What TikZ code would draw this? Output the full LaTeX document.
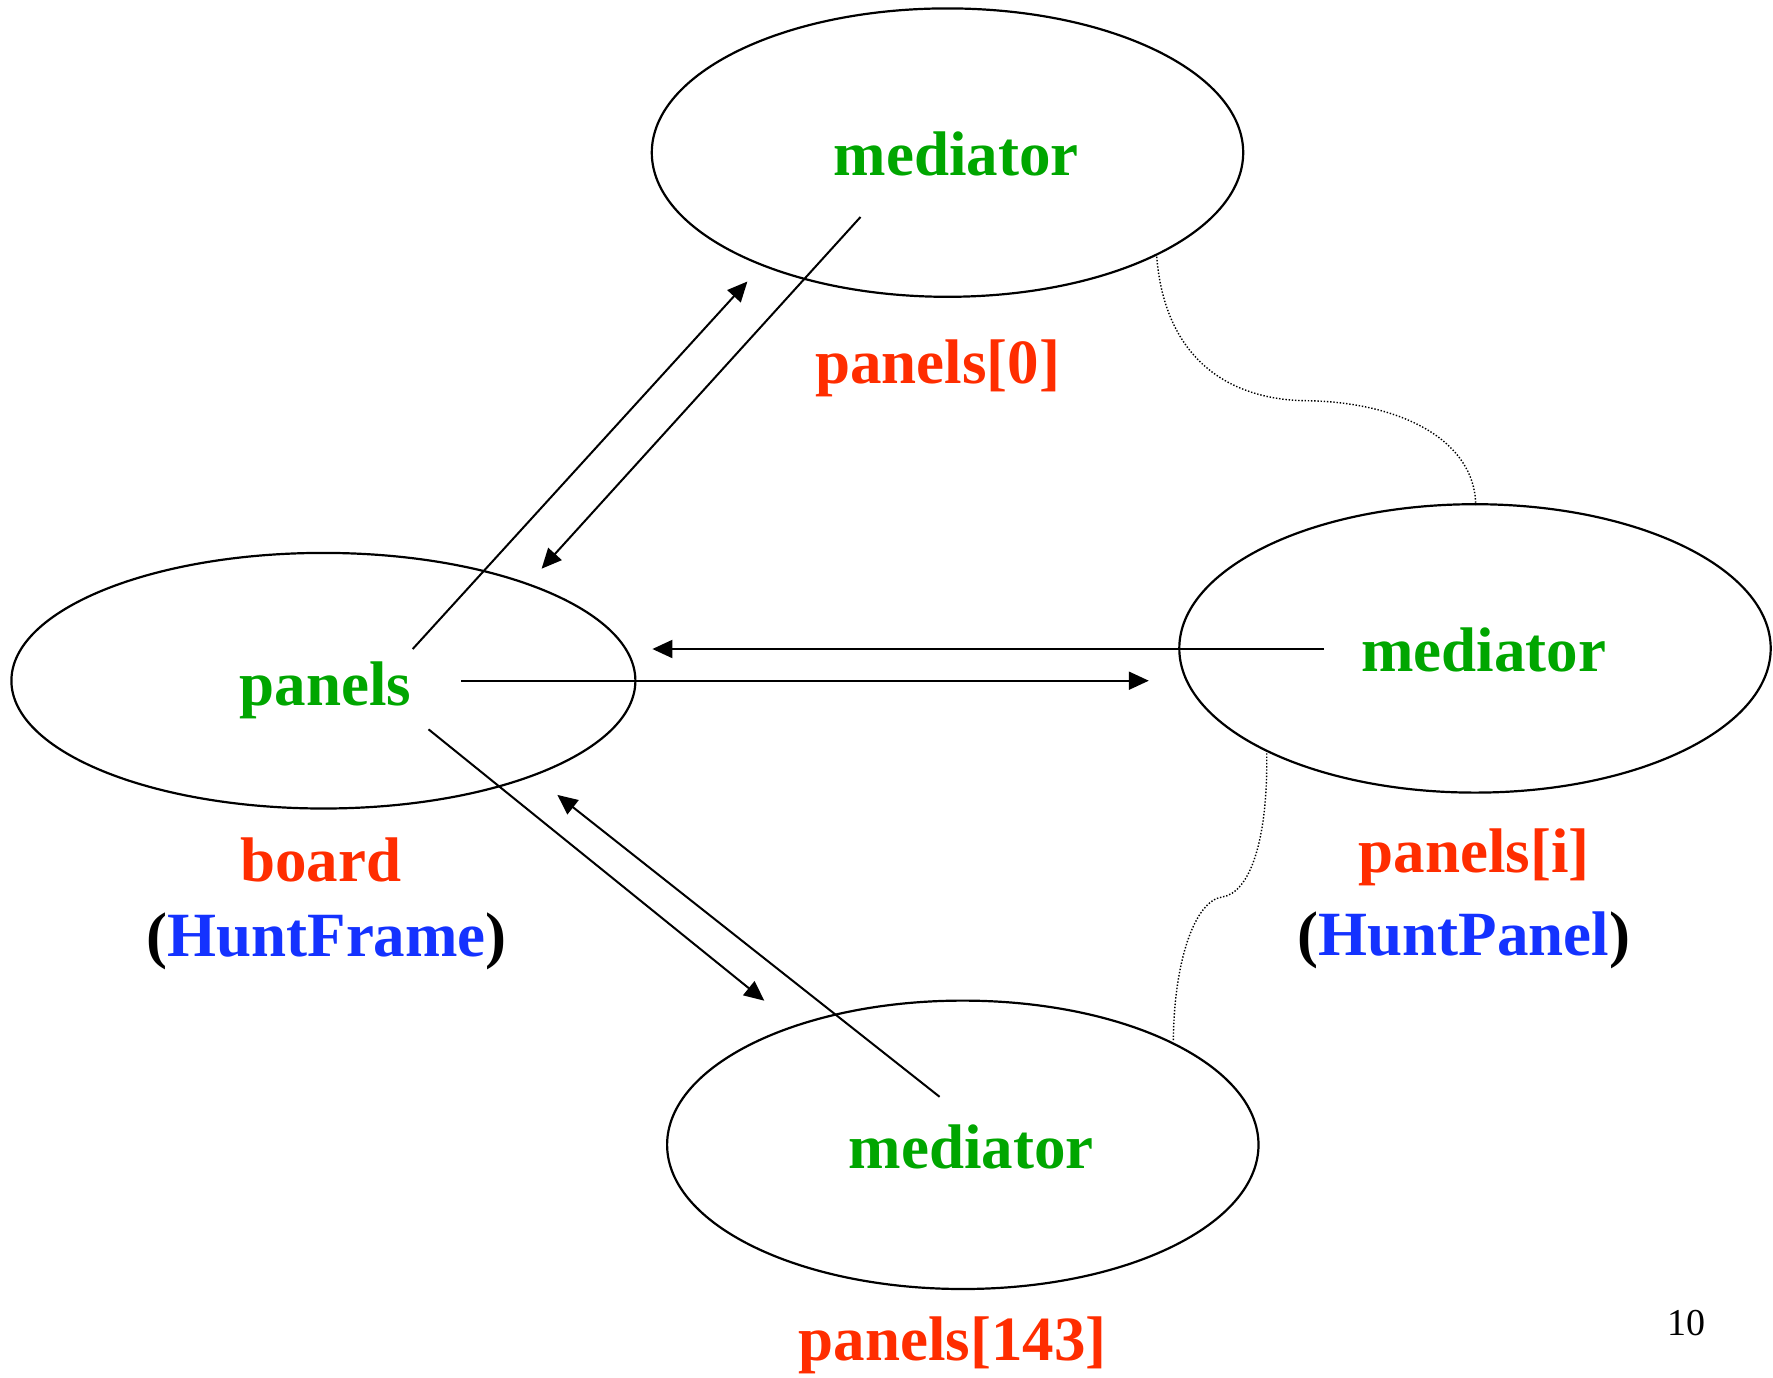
\documentclass[tikz,border=0pt]{standalone}
\usepackage{fontspec}
\setmainfont{Liberation Serif}
\usetikzlibrary{shapes.geometric,arrows.meta}
\definecolor{medgreen}{RGB}{0,166,0}
\definecolor{lblred}{RGB}{255,45,0}
\definecolor{lblblue}{RGB}{20,50,255}
\tikzset{
  obj/.style={ellipse,draw,line width=1.1pt,inner sep=0pt},
  lbl/.style={anchor=base,inner sep=0pt,font=\fontsize{31.5}{36}\selectfont\bfseries},
  conn/.style={line width=1pt,-{Triangle[length=10pt,width=9pt]}},
  link/.style={line width=0.7pt,dash pattern=on 0.7pt off 0.9pt}
}
\begin{document}
\begin{tikzpicture}[x=0.5pt,y=-0.5pt]
\useasboundingbox (0,0) rectangle (1773,1377);
% ellipses
\node[obj,minimum width=295.7pt,minimum height=144.2pt] (top) at (947.5,152.6) {};
\node[obj,minimum width=312pt,minimum height=127.8pt] (left) at (323.4,680.7) {};
\node[obj,minimum width=295.7pt,minimum height=144.2pt] (right) at (1475,648.4) {};
\node[obj,minimum width=295.7pt,minimum height=144.2pt] (bottom) at (962.8,1144.8) {};
% texts
\node[lbl,text=medgreen] (tmed) at (956.3,175) {mediator};
\node[lbl,text=medgreen] (lpan) at (325.4,705) {panels};
\node[lbl,text=medgreen] (rmed) at (1483.5,671.5) {mediator};
\node[lbl,text=medgreen] (bmed) at (971.3,1168) {mediator};
\node[lbl,text=lblred] (p0) at (937.5,383) {panels[0]};
\node[lbl,text=lblred] (board) at (320.8,881.7) {board};
\node[lbl] (hf) at (326.7,956.7) {(\textcolor{lblblue}{HuntFrame})};
\node[lbl,text=lblred] (pi) at (1474,872) {panels[i]};
\node[lbl] (hp) at (1464,955) {(\textcolor{lblblue}{HuntPanel})};
\node[lbl,text=lblred] (p143) at (952.5,1360) {panels[143]};
\node[anchor=base,inner sep=0pt,font=\fontsize{19}{22}\selectfont] (pg) at (1686.7,1335) {10};
% connector end points
\coordinate (a1) at (412.7,649);
\coordinate (a2) at (747.4,281.5);
\coordinate (b1) at (860.5,217);
\coordinate (b2) at (541.6,568.7);
\coordinate (c1) at (1324,649);
\coordinate (c2) at (652.4,649);
\coordinate (d1) at (461.3,680.7);
\coordinate (d2) at (1148.8,680.7);
\coordinate (e1) at (428.5,729.3);
\coordinate (e2) at (764.3,1000.7);
\coordinate (f1) at (939.6,1096.8);
\coordinate (f2) at (557.4,794.9);
\draw[conn] (a1) -- (a2);
\draw[conn] (b1) -- (b2);
\draw[conn] (c1) -- (c2);
\draw[conn] (d1) -- (d2);
\draw[conn] (e1) -- (e2);
\draw[conn] (f1) -- (f2);
% dotted links
\coordinate (g1) at (1156.7,256.7);
\coordinate (g2) at (1306.7,400.7);
\coordinate (g3) at (1475.7,505);
\draw[link] (g1) .. controls (1165,360) and (1230,400) .. (g2)
  .. controls (1400,402) and (1475,440) .. (g3);
\coordinate (h1) at (1266.7,753.3);
\coordinate (h2) at (1222,897);
\coordinate (h3) at (1173.3,1041.7);
\draw[link] (h1) .. controls (1268,840) and (1250,893) .. (h2)
  .. controls (1195,901) and (1174,960) .. (h3);
\end{tikzpicture}
\end{document}
